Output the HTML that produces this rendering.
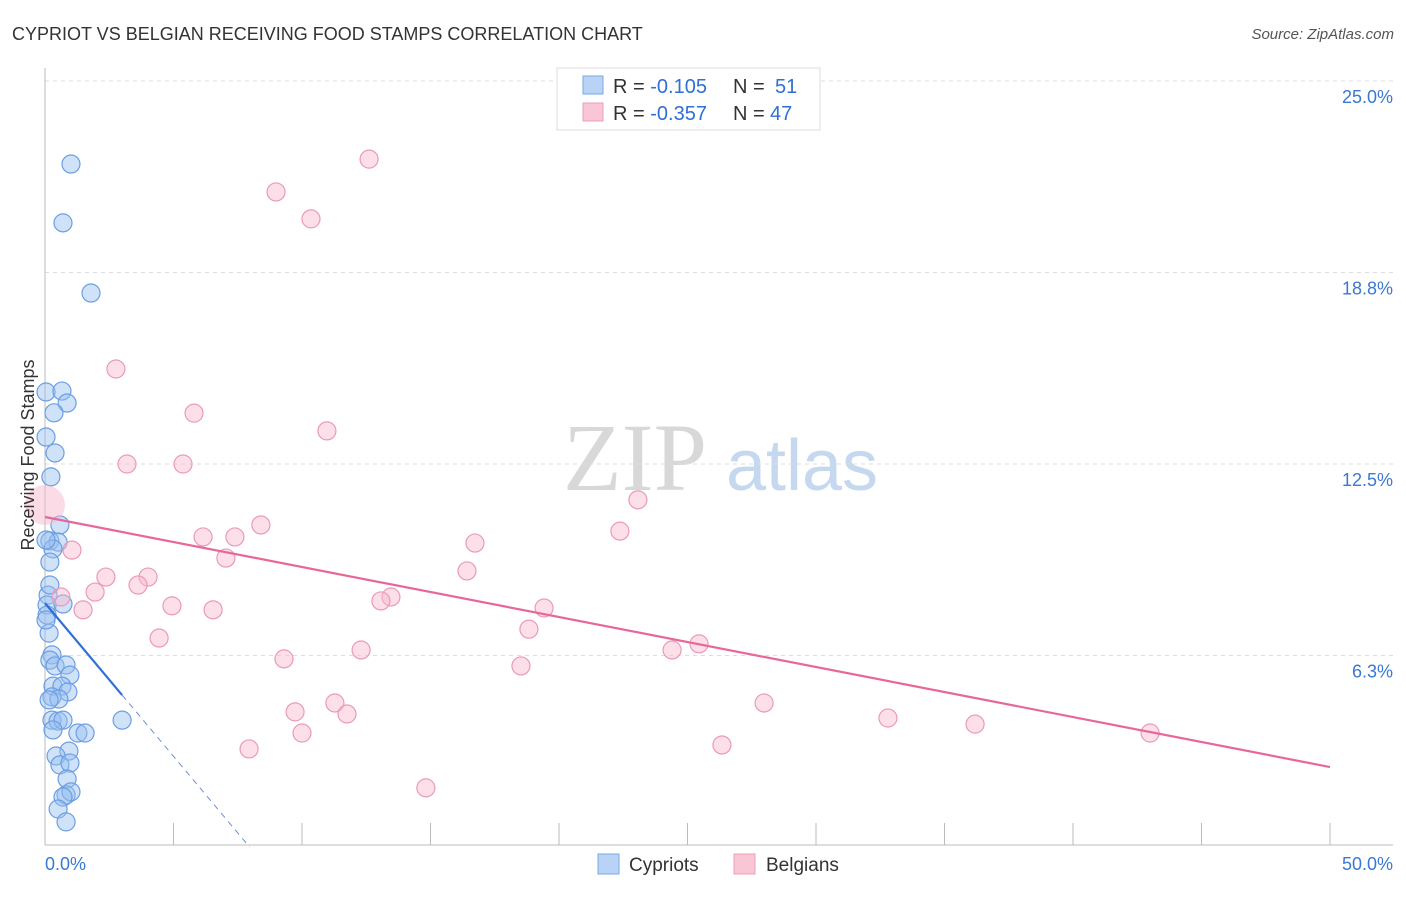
<!DOCTYPE html>
<html><head><meta charset="utf-8">
<style>
body{margin:0;background:#fff;font-family:"Liberation Sans",sans-serif;}
svg text{font-family:"Liberation Sans",sans-serif;}
</style></head>
<body>
<svg id="chart" width="1406" height="892" xmlns="http://www.w3.org/2000/svg">
<text x="12" y="40" font-size="18" fill="#333">CYPRIOT VS BELGIAN RECEIVING FOOD STAMPS CORRELATION CHART</text>
<text x="1394" y="39" font-size="15" fill="#555" font-style="italic" text-anchor="end">Source: ZipAtlas.com</text>
<g>
<text x="635" y="490" font-size="96" fill="#d8d8d8" style="font-family:'Liberation Serif',serif" text-anchor="middle">ZIP</text>
<text x="802" y="490" font-size="72" fill="#c5d8ef" text-anchor="middle">atlas</text>
</g>
<g id="grid"></g>
<g id="axes"></g>
<g id="marks"></g>
<text transform="translate(34,455) rotate(-90)" font-size="18" fill="#333" text-anchor="middle">Receiving Food Stamps</text>
<g>
<rect x="557" y="68" width="263" height="62" fill="#fff" stroke="#ddd"/>
<rect x="583" y="76" width="20" height="18" fill="#b8d3f5" stroke="#7aa7e3"/>
<rect x="583" y="103" width="20" height="18" fill="#f9c6d6" stroke="#eaa0b9"/>
<text x="613" y="93" font-size="20" fill="#333">R = <tspan fill="#2f6fd6">-0.105</tspan><tspan x="733">N = </tspan><tspan x="775" fill="#2f6fd6">51</tspan></text>
<text x="613" y="120" font-size="20" fill="#333">R = <tspan fill="#2f6fd6">-0.357</tspan><tspan x="733">N = </tspan><tspan x="770" fill="#2f6fd6">47</tspan></text>
</g>
<g>
<rect x="598" y="854" width="21" height="20" fill="#b8d3f5" stroke="#7aa7e3"/>
<text x="629" y="871" font-size="19" fill="#333">Cypriots</text>
<rect x="734" y="854" width="21" height="20" fill="#f9c6d6" stroke="#eaa0b9"/>
<text x="766" y="871" font-size="19" fill="#333">Belgians</text>
</g>
</svg>
<script>
const yTicks=[6.25,12.5,18.75,25];
const yTickLabels=["6.3%","12.5%","18.8%","25.0%"];
const xTicks=[0,5,10,15,20,25,30,35,40,45,50];
const cypX=[1.01,0.70,1.79,0.04,0.66,0.86,0.35,0.04,0.39,0.23,0.58,0.19,0.51,0.31,0.19,0.12,0.08,0.70,0.08,0.16,0.27,0.19,0.39,0.82,0.97,0.31,0.66,0.89,0.27,0.54,0.27,0.51,0.70,0.31,1.28,1.56,3.00,0.93,0.43,0.58,0.97,0.86,0.82,1.01,0.70,0.51,0.82,0.04,0.19,0.04,0.16];
const cypY=[22.29,20.37,18.08,14.85,14.88,14.49,14.17,13.38,12.86,12.08,10.51,9.99,9.95,9.73,9.30,8.22,7.90,7.93,7.57,6.98,6.27,6.10,5.91,5.94,5.61,5.25,5.25,5.06,4.90,4.83,4.14,4.11,4.14,3.82,3.72,3.72,4.14,3.13,2.97,2.68,2.74,2.22,1.70,1.80,1.63,1.24,0.82,7.41,8.55,10.02,4.80];
const belX=[12.61,8.99,10.35,2.76,5.80,10.97,3.19,5.37,23.07,8.40,22.37,6.15,7.39,16.73,1.05,7.04,16.42,2.37,4.01,3.62,1.95,13.46,13.07,0.62,4.94,1.48,6.54,19.42,18.83,4.44,25.45,24.40,12.30,9.30,18.52,11.28,27.98,9.73,11.75,32.80,36.19,10.00,43.00,26.34,7.94,14.82];
const belY=[22.45,21.38,20.50,15.60,14.16,13.58,12.50,12.50,11.33,10.51,10.31,10.12,10.12,9.92,9.69,9.43,9.01,8.81,8.81,8.55,8.32,8.16,8.03,8.16,7.87,7.74,7.74,7.80,7.11,6.82,6.63,6.43,6.43,6.14,5.91,4.70,4.70,4.41,4.34,4.21,4.01,3.72,3.72,3.33,3.20,1.93];
const belBig=[0,11.16];
const belTrend=[10.77,2.61];
const cypTrend=[7.96,4.96,3.0];
const NS="http://www.w3.org/2000/svg";
const X=v=>45+v*25.7, Y=v=>847-v*30.64;
function mk(tag,attrs,parent){const e=document.createElementNS(NS,tag);for(const k in attrs)e.setAttribute(k,attrs[k]);document.getElementById(parent).appendChild(e);return e;}
yTicks.forEach((t,i)=>{
 const l=mk('line',{x1:45,x2:1393,y1:Y(t),y2:Y(t),stroke:'#ddd','stroke-dasharray':'4,4'},'grid');
 
 
 const tx=mk('text',{x:1393,y:Y(t)+22,'font-size':18,fill:'#3a78d4','text-anchor':'end'},'axes');
 tx.textContent=yTickLabels[i];
 
 
});
let ax=mk('line',{x1:45,x2:45,y1:68,y2:845,stroke:'#bbb'},'axes');


ax=mk('line',{x1:45,x2:1393,y1:845,y2:845,stroke:'#bbb'},'axes');


xTicks.forEach(t=>{const l=mk('line',{x1:X(t),x2:X(t),y1:823,y2:845,stroke:'#bbb'},'axes');
 
 });
let t0=mk('text',{x:45,y:870,'font-size':18,fill:'#3a78d4'},'axes');t0.textContent='0.0%';


let t1=mk('text',{x:1393,y:870,'font-size':18,fill:'#3a78d4','text-anchor':'end'},'axes');t1.textContent='50.0%';


cypX.forEach((x,i)=>{const c=mk('circle',{cx:X(x),cy:Y(cypY[i]),r:9,fill:'rgba(150,190,240,0.45)',stroke:'#6c9ee3','stroke-width':1.2},'marks');
 
 });
belX.forEach((x,i)=>{const c=mk('circle',{cx:X(x),cy:Y(belY[i]),r:9,fill:'rgba(248,185,205,0.45)',stroke:'#eb9ab5','stroke-width':1.2},'marks');
 
 });
const bb=mk('circle',{cx:X(belBig[0]),cy:Y(belBig[1]),r:20,fill:'rgba(248,185,205,0.5)',stroke:'none'},'marks');


const pl=mk('line',{x1:X(0),y1:Y(belTrend[0]),x2:X(50),y2:Y(belTrend[1]),stroke:'#e8679a','stroke-width':2.2},'marks');


const slope=(cypTrend[1]-cypTrend[0])/cypTrend[2];
const xz=-cypTrend[0]/slope;
const bl=mk('line',{x1:X(0),y1:Y(cypTrend[0]),x2:X(cypTrend[2]),y2:Y(cypTrend[1]),stroke:'#2f6fd6','stroke-width':2.2},'marks');


const bd=mk('line',{x1:X(cypTrend[2]),y1:Y(cypTrend[1]),x2:X(xz),y2:Y(0),stroke:'#6c90d8','stroke-width':1,'stroke-dasharray':'6,5'},'marks');


const topGrid=mk('line',{x1:45,x2:1393,y1:Y(25),y2:Y(25),stroke:'#ddd','stroke-dasharray':'4,4'},'grid');


</script>
</body></html>
